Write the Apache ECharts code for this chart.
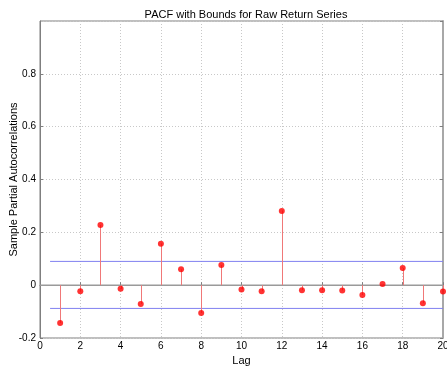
<!DOCTYPE html>
<html>
<head>
<meta charset="utf-8">
<script src="https://cdn.jsdelivr.net/npm/echarts@6/dist/echarts.min.js"></script>
<style>
  html, body { margin: 0; padding: 0; background: #fff; }
  #chart { width: 447px; height: 366px; }
</style>
</head>
<body>
<div id="chart"></div>
<script>
// lags and sample partial autocorrelations
const lags = [1, 2, 3, 4, 5, 6, 7, 8, 9, 10, 11, 12, 13, 14, 15, 16, 17, 18, 19, 20];
const pacf = [-0.143, -0.023, 0.228, -0.014, -0.071, 0.157, 0.060, -0.105, 0.076, -0.016,
              -0.023, 0.281, -0.019, -0.019, -0.020, -0.037, 0.004, 0.065, -0.068, -0.024];
const upperBound = 0.090;
const lowerBound = -0.088;
const boundRange = [0.5, 20];

const chart = echarts.init(document.getElementById('chart'));

const points = lags.map((l, i) => [l, pacf[i]]);

const font = 'Liberation Sans';

chart.setOption({
    animation: false,
    title: {
        text: 'PACF with Bounds for Raw Return Series',
        left: 241, top: 4, textAlign: 'center',
        textStyle: { fontFamily: font, fontSize: 11, fontWeight: 'normal', color: '#000' }
    },
    grid: {
        left: 40, right: 4, top: 21, bottom: 28,
        outerBoundsMode: 'none', containLabel: false,
        show: true, borderColor: '#7f7f7f', borderWidth: 1, backgroundColor: '#fff'
    },
    xAxis: {
        type: 'value', min: 0, max: 20, interval: 2,
        name: 'Lag', nameLocation: 'middle', nameGap: 16,
        nameTextStyle: { fontFamily: font, fontSize: 11, color: '#000' },
        axisLine: { show: true, lineStyle: { color: '#7f7f7f' } },
        axisTick: { show: true, inside: true, length: 3, lineStyle: { color: '#7f7f7f' } },
        axisLabel: { fontFamily: font, fontSize: 10, color: '#000', margin: 3 },
        splitLine: { show: true, lineStyle: { color: '#c8c8c8', type: [1, 2] } }
    },
    yAxis: [{
        type: 'value', min: -0.2, max: 1, interval: 0.2,
        name: 'Sample Partial Autocorrelations', nameLocation: 'middle', nameGap: 21,
        nameMoveOverlap: false,
        nameTextStyle: { fontFamily: font, fontSize: 11, color: '#000' },
        axisLine: { show: true, lineStyle: { color: '#7f7f7f' } },
        axisTick: { show: true, inside: true, length: 3, lineStyle: { color: '#7f7f7f' } },
        axisLabel: {
            fontFamily: font, fontSize: 10, color: '#000', margin: 4,
            showMaxLabel: false,
            formatter: v => (Math.abs(v) < 1e-9 ? '0' : +v.toFixed(1) + '')
        },
        splitLine: { show: true, lineStyle: { color: '#c8c8c8', type: [1, 2] } }
    }, {
        type: 'value', min: -0.2, max: 1, interval: 0.2, position: 'right',
        axisLine: { show: true, lineStyle: { color: '#a8a8a8', width: 2 } },
        axisTick: { show: true, inside: true, length: 3, lineStyle: { color: '#7f7f7f' } },
        axisLabel: { show: false },
        splitLine: { show: false }
    }],
    series: [
        {
            type: 'line', silent: true, symbol: 'none',
            data: [[0, 0], [20, 0]],
            lineStyle: { color: '#9a9a9a', width: 1.5 }, z: 2
        },
        {
            type: 'line', silent: true, symbol: 'none',
            data: boundRange.map(x => [x, upperBound]),
            lineStyle: { color: '#8080f0', width: 1 }, z: 3
        },
        {
            type: 'line', silent: true, symbol: 'none',
            data: boundRange.map(x => [x, lowerBound]),
            lineStyle: { color: '#8080f0', width: 1 }, z: 3
        },
        {
            type: 'custom', silent: true, z: 4,
            data: points,
            renderItem: (params, api) => {
                const p0 = api.coord([api.value(0), 0]);
                const p1 = api.coord([api.value(0), api.value(1)]);
                const x = Math.round(p0[0]) + 0.5;
                return {
                    type: 'line',
                    shape: { x1: x, y1: p0[1], x2: x, y2: p1[1] },
                    style: { stroke: '#f07878', lineWidth: 1 }
                };
            }
        },
        {
            type: 'scatter', silent: true, z: 5,
            data: points, symbol: 'circle', symbolSize: 6,
            itemStyle: { color: '#ff0000' }
        }
    ]
});
</script>
</body>
</html>
